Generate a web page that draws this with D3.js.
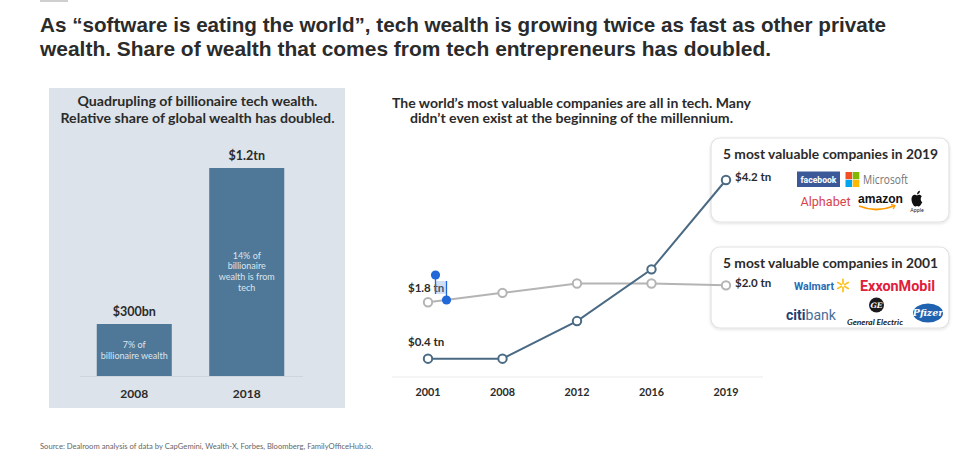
<!DOCTYPE html>
<html>
<head>
<meta charset="utf-8">
<script src="https://cdn.jsdelivr.net/npm/d3@7"></script>
<style>
  html, body { margin: 0; padding: 0; background: #ffffff; }
  svg { display: block; font-family: Lato, "Open Sans", "DejaVu Sans", sans-serif; }
</style>
</head>
<body>
<svg id="chart" width="960" height="460"></svg>
<script>
// ---------- DATA ----------
const titleLines = [
  "As \u201csoftware is eating the world\u201d, tech wealth is growing twice as fast as other private",
  "wealth. Share of wealth that comes from tech entrepreneurs has doubled."
];
const barTitle = ["Quadrupling of billionaire tech wealth.", "Relative share of global wealth has doubled."];
const barCategories = ["2008", "2018"];
const barValues = [300, 1200];               // $bn of billionaire tech wealth
const barValueLabels = ["$300bn", "$1.2tn"];
const barNotes = [["7% of", "billionaire wealth"], ["14% of", "billionaire", "wealth is from", "tech"]];

const lineTitle = ["The world\u2019s most valuable companies are all in tech. Many", "didn\u2019t even exist at the beginning of the millennium."];
const lineYears = ["2001", "2008", "2012", "2016", "2019"];
const techValues = [0.4, 0.4, 1.2, 2.3, 4.2];        // $tn, top-5 of 2019
const incumbentValues = [1.6, 1.8, 2.0, 2.0, 1.96];  // $tn, top-5 of 2001 (as drawn)
const techLabels = ["$0.4 tn", "$4.2 tn"];
const incumbentLabels = ["$1.8 tn", "$2.0 tn"];
const box2019Title = "5 most valuable companies in 2019";
const box2001Title = "5 most valuable companies in 2001";
const sourceText = "Source: Dealroom analysis of data by CapGemini, Wealth-X, Forbes, Bloomberg, FamilyOfficeHub.io.";

// ---------- SETUP ----------
const svg = d3.select("#chart");
const ink = "#2b2b2b";

const defs = svg.append("defs");
const shadow = defs.append("filter").attr("id", "shadow").attr("x", "-10%").attr("y", "-20%").attr("width", "120%").attr("height", "140%");
shadow.append("feDropShadow").attr("dx", 0).attr("dy", 1).attr("stdDeviation", 1.6).attr("flood-color", "#000").attr("flood-opacity", 0.13);

// top rule
svg.append("rect").attr("x", 40).attr("y", 0).attr("width", 28).attr("height", 2).attr("fill", "#cfcfcf");

// main title
const titleLens = [846, 731];
svg.selectAll("text.title").data(titleLines).join("text")
  .attr("class", "title")
  .attr("x", 40).attr("y", (d, i) => 32 + i * 23.5)
  .attr("textLength", (d, i) => titleLens[i]).attr("lengthAdjust", "spacingAndGlyphs")
  .attr("font-family", "'Liberation Sans Narrow', 'Liberation Sans', Arial, sans-serif")
  .attr("font-size", 21).attr("font-weight", 700).attr("fill", ink)
  .text(d => d);

// ---------- LEFT PANEL : BARS ----------
svg.append("rect").attr("x", 49).attr("y", 88).attr("width", 296).attr("height", 320).attr("fill", "#dde3ea");

const barTitleLens = [240, 274];
svg.selectAll("text.btitle").data(barTitle).join("text")
  .attr("class", "btitle")
  .attr("x", 197.5).attr("y", (d, i) => 106 + i * 17)
  .attr("text-anchor", "middle").attr("font-size", 13.2).attr("font-weight", 700).attr("fill", ink)
  .attr("textLength", (d, i) => barTitleLens[i]).attr("lengthAdjust", "spacingAndGlyphs")
  .text(d => d);

const xb = d3.scaleBand().domain(barCategories).range([78, 303]).paddingInner(0.333).paddingOuter(0.1667);
const yb = d3.scaleLinear().domain([0, 1200]).range([376, 168]);

svg.append("line").attr("x1", 80).attr("x2", 303).attr("y1", yb(0) + 0.5).attr("y2", yb(0) + 0.5)
  .attr("stroke", "#cdd5de").attr("stroke-width", 1.2);

const bars = svg.selectAll("g.bar").data(barCategories).join("g").attr("class", "bar");
bars.append("rect")
  .attr("x", d => xb(d)).attr("width", xb.bandwidth())
  .attr("y", (d, i) => yb(barValues[i])).attr("height", (d, i) => yb(0) - yb(barValues[i]))
  .attr("fill", "#4f7797");
bars.append("text")
  .attr("x", d => xb(d) + xb.bandwidth() / 2).attr("y", (d, i) => yb(barValues[i]) - 8)
  .attr("text-anchor", "middle").attr("font-size", 12.5).attr("font-weight", 700).attr("fill", ink)
  .text((d, i) => barValueLabels[i]);
bars.append("text")
  .attr("x", d => xb(d) + xb.bandwidth() / 2).attr("y", 397.5)
  .attr("text-anchor", "middle").attr("font-size", 12).attr("font-weight", 700).attr("fill", ink)
  .text(d => d);
bars.each(function (d, i) {
  const notes = barNotes[i];
  const cy = (yb(barValues[i]) + yb(0)) / 2 + (i === 0 ? 0.5 : -0.5);
  const lh = 10.8;
  const top = cy - (notes.length - 1) * lh / 2;
  d3.select(this).selectAll("text.note").data(notes).join("text")
    .attr("class", "note")
    .attr("x", xb(d) + xb.bandwidth() / 2).attr("y", (n, k) => top + k * lh + 3.2)
    .attr("text-anchor", "middle").attr("font-size", 9).attr("fill", "#dbe5ee")
    .text(n => n);
});

// ---------- RIGHT PANEL : LINES ----------
const lineTitleLens = [359, 323];
svg.selectAll("text.ltitle").data(lineTitle).join("text")
  .attr("class", "ltitle")
  .attr("x", 571.5).attr("y", (d, i) => 107.5 + i * 15.5)
  .attr("text-anchor", "middle").attr("font-size", 12.8).attr("font-weight", 700).attr("fill", ink)
  .attr("textLength", (d, i) => lineTitleLens[i]).attr("lengthAdjust", "spacingAndGlyphs")
  .text(d => d);

// legend boxes (drawn before lines so the lines run over them)
function box(y, h, title) {
  const g = svg.append("g");
  g.append("rect").attr("x", 711).attr("y", y).attr("width", 238).attr("height", h).attr("rx", 9)
    .attr("fill", "#ffffff").attr("stroke", "#e2e2e2").attr("stroke-width", 1.2).attr("filter", "url(#shadow)");
  g.append("text").attr("x", 723).attr("y", y + 21).attr("font-size", 13).attr("font-weight", 700)
    .attr("textLength", 215).attr("lengthAdjust", "spacingAndGlyphs")
    .attr("fill", ink).text(title);
  return g;
}
const b19 = box(138, 84, box2019Title);
const b01 = box(247, 81, box2001Title);

// 2019 logos
b19.append("rect").attr("x", 797).attr("y", 171.5).attr("width", 43).attr("height", 15.5).attr("fill", "#3b5998");
b19.append("text").attr("x", 818.5).attr("y", 182.5).attr("text-anchor", "middle").attr("font-size", 8.6)
  .attr("font-weight", 700).attr("fill", "#ffffff").attr("font-family", "Roboto, sans-serif").text("facebook");
const msColors = ["#f25022", "#7fba00", "#00a4ef", "#ffb900"];
b19.selectAll("rect.ms").data(msColors).join("rect").attr("class", "ms")
  .attr("x", (c, i) => 845.5 + (i % 2) * 7.2).attr("y", (c, i) => 172 + Math.floor(i / 2) * 7.8)
  .attr("width", 6.6).attr("height", 7.2).attr("fill", c => c);
b19.append("text").attr("x", 863).attr("y", 183.5).attr("font-size", 11.8).attr("fill", "#737373")
  .attr("textLength", 45).attr("lengthAdjust", "spacingAndGlyphs")
  .attr("font-family", "'Open Sans', sans-serif").text("Microsoft");
b19.append("text").attr("x", 800.5).attr("y", 206).attr("font-size", 13).attr("fill", "#d8434e")
  .attr("textLength", 50).attr("lengthAdjust", "spacingAndGlyphs")
  .attr("font-family", "Roboto, sans-serif").text("Alphabet");
b19.append("text").attr("x", 858).attr("y", 203).attr("font-size", 13.5).attr("font-weight", 700).attr("fill", "#111")
  .attr("textLength", 45).attr("lengthAdjust", "spacingAndGlyphs")
  .attr("font-family", "'Liberation Sans', Arial, sans-serif").text("amazon");
b19.append("path").attr("d", "M859,206 Q876,213 894,206").attr("fill", "none").attr("stroke", "#ff9900").attr("stroke-width", 1.8);
b19.append("path").attr("d", "M891,204.5 L895,205.6 L893.2,209").attr("fill", "none").attr("stroke", "#ff9900").attr("stroke-width", 1.3);
const apple = b19.append("g").attr("transform", "translate(917,199) scale(1.0)");
apple.append("path").attr("fill", "#111")
  .attr("d", "M0,-3.5 C-1.5,-4.8 -5.5,-4.8 -5.5,0.5 C-5.5,4 -3,7.5 -1.8,7.5 C-0.8,7.5 -0.6,7 0,7 C0.6,7 0.8,7.5 1.8,7.5 C3,7.5 4.8,4.5 5.3,3 C3.5,2.2 3.2,-1.5 4.8,-2.6 C3.8,-4.5 1.5,-4.6 0,-3.5 Z");
apple.append("path").attr("fill", "#111").attr("d", "M0,-4.6 C0,-6.6 1.5,-8.2 3,-8.2 C3,-6.2 1.5,-4.8 0,-4.6 Z");
b19.append("text").attr("x", 917).attr("y", 212).attr("text-anchor", "middle").attr("font-size", 5.2)
  .attr("fill", "#222").text("Apple");

// 2001 logos
b01.append("text").attr("x", 794).attr("y", 289.5).attr("font-size", 11).attr("font-weight", 700).attr("fill", "#2a6ab5")
  .attr("textLength", 40).attr("lengthAdjust", "spacingAndGlyphs")
  .attr("font-family", "Roboto, sans-serif").text("Walmart");
const spark = b01.append("g").attr("transform", "translate(843,285.5)");
spark.selectAll("line").data(d3.range(6)).join("line")
  .attr("x1", a => 2 * Math.cos((a * 60 - 90) * Math.PI / 180)).attr("y1", a => 2 * Math.sin((a * 60 - 90) * Math.PI / 180))
  .attr("x2", a => 6 * Math.cos((a * 60 - 90) * Math.PI / 180)).attr("y2", a => 6 * Math.sin((a * 60 - 90) * Math.PI / 180))
  .attr("stroke", "#ffc220").attr("stroke-width", 1.8).attr("stroke-linecap", "round");
b01.append("text").attr("x", 860).attr("y", 290.5).attr("font-size", 13.8).attr("font-weight", 700).attr("fill", "#e0203a")
  .attr("font-family", "Roboto, sans-serif").attr("textLength", 75).attr("lengthAdjust", "spacingAndGlyphs").text("ExxonMobil");
const citi = b01.append("text").attr("x", 786).attr("y", 319.5).attr("font-size", 14).attr("font-family", "Roboto, sans-serif")
  .attr("textLength", 50).attr("lengthAdjust", "spacingAndGlyphs");
citi.append("tspan").attr("font-weight", 700).attr("fill", "#1d3f73").text("citi");
citi.append("tspan").attr("fill", "#4a6e9a").text("bank");
b01.append("circle").attr("cx", 876.5).attr("cy", 305).attr("r", 7.5).attr("fill", "#1a1a1a");
b01.append("text").attr("x", 876.5).attr("y", 307.8).attr("text-anchor", "middle").attr("font-size", 7.5).attr("font-style", "italic")
  .attr("font-weight", 700).attr("fill", "#fff").attr("font-family", "'DejaVu Serif', serif").text("GE");
b01.append("text").attr("x", 875).attr("y", 324.5).attr("text-anchor", "middle").attr("font-size", 6.5).attr("font-style", "italic")
  .attr("font-weight", 700).attr("fill", "#222").attr("textLength", 56).attr("lengthAdjust", "spacingAndGlyphs").text("General Electric");
b01.append("ellipse").attr("cx", 928).attr("cy", 313).attr("rx", 15).attr("ry", 9.5).attr("fill", "#1f63b0");
b01.append("text").attr("x", 928).attr("y", 316).attr("text-anchor", "middle").attr("font-size", 9.5).attr("font-style", "italic")
  .attr("font-weight", 700).attr("fill", "#fff").attr("font-family", "'DejaVu Serif', serif").text("Pfizer");

// scales
const xl = d3.scalePoint().domain(lineYears).range([428, 726]);
const yl = d3.scaleLinear().domain([0, 4.2]).range([377.5, 180]);

svg.append("line").attr("x1", 392).attr("x2", 763).attr("y1", 377).attr("y2", 377)
  .attr("stroke", "#ececec").attr("stroke-width", 1.2);

svg.selectAll("text.year").data(lineYears).join("text").attr("class", "year")
  .attr("x", d => xl(d)).attr("y", 396).attr("text-anchor", "middle")
  .attr("font-size", 10.8).attr("font-weight", 700).attr("fill", ink).text(d => d);

const line = d3.line().x(d => xl(d.year)).y(d => yl(d.v));
function series(vals, color) {
  const pts = lineYears.map((y, i) => ({ year: y, v: vals[i] }));
  const g = svg.append("g");
  g.append("path").datum(pts).attr("d", line).attr("fill", "none").attr("stroke", color).attr("stroke-width", 2);
  g.selectAll("circle").data(pts).join("circle")
    .attr("cx", d => xl(d.year)).attr("cy", d => yl(d.v)).attr("r", 4.2)
    .attr("fill", "#fff").attr("stroke", color).attr("stroke-width", 2);
}
series(incumbentValues, "#b4b4b4");
series(techValues, "#4a6a84");

// value labels
const lbl = (x, y, t) => svg.append("text").attr("x", x).attr("y", y).attr("font-size", 11.5)
  .attr("font-weight", 700).attr("fill", ink).text(t);
lbl(408, yl(incumbentValues[0]) - 10.5, incumbentLabels[0]);
lbl(408, yl(techValues[0]) - 12.5, techLabels[0]);
lbl(735, yl(techValues[4]) + 1, techLabels[1]);
lbl(735, yl(incumbentValues[4]) + 2, incumbentLabels[1]);

// text-selection marks visible in the reference screenshot
svg.append("rect").attr("x", 435).attr("y", 281).attr("width", 11.5).attr("height", 13).attr("fill", "#7aa7e6").attr("opacity", 0.35);
svg.append("line").attr("x1", 435.5).attr("x2", 435.5).attr("y1", 275).attr("y2", 294).attr("stroke", "#2268d8").attr("stroke-width", 1.3);
svg.append("line").attr("x1", 446.5).attr("x2", 446.5).attr("y1", 281).attr("y2", 300).attr("stroke", "#2268d8").attr("stroke-width", 1.3);
svg.append("circle").attr("cx", 435.5).attr("cy", 275).attr("r", 4.6).attr("fill", "#2268d8");
svg.append("circle").attr("cx", 446.5).attr("cy", 300).attr("r", 4.6).attr("fill", "#2268d8");

// source
svg.append("text").attr("x", 40).attr("y", 449).attr("font-size", 7).attr("fill", "#666")
  .attr("textLength", 333).attr("lengthAdjust", "spacingAndGlyphs").text(sourceText);
</script>
</body>
</html>
